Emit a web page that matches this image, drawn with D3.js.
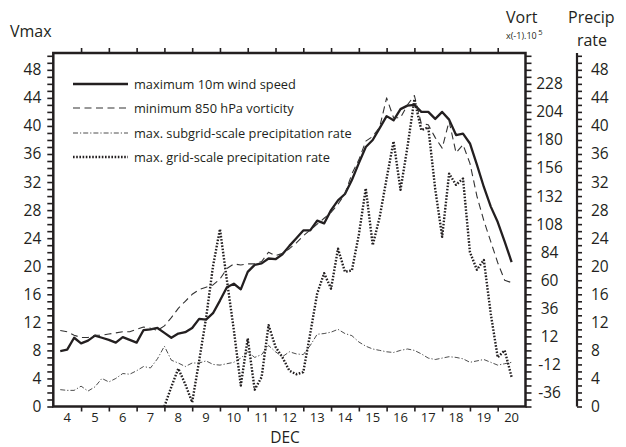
<!DOCTYPE html>
<html><head><meta charset="utf-8">
<script src="https://cdn.jsdelivr.net/npm/d3@7/dist/d3.min.js"></script>
<style>
body{margin:0;background:#fff}
svg{display:block}
text{font-family:"Open Sans",sans-serif;fill:#231f20}
</style>
</head><body>
<svg id="c" width="626" height="447"></svg>
<script>
// ---- data (6-hourly, December) ----
const times = [4.25,4.5,4.75,5,5.25,5.5,5.75,6,6.25,6.5,6.75,7,7.25,7.5,7.75,8,8.25,8.5,8.75,9,9.25,9.5,9.75,10,10.25,10.5,10.75,11,11.25,11.5,11.75,12,12.25,12.5,12.75,13,13.25,13.5,13.75,14,14.25,14.5,14.75,15,15.25,15.5,15.75,16,16.25,16.5,16.75,17,17.25,17.5,17.75,18,18.25,18.5,18.75,19,19.25,19.5,19.75,20,20.25,20.5];
const vmax = [7.9,8.1,9.8,9.0,9.4,10.1,9.8,9.5,9.1,9.9,9.5,9.1,10.9,11.0,11.2,10.5,9.8,10.4,10.6,11.2,12.5,12.4,13.3,15.1,17.0,17.5,16.7,19.2,20.2,20.4,21.1,21.0,21.7,22.9,24.0,25.1,25.1,26.5,26.1,28.0,29.4,30.3,32.3,34.7,37.0,38.0,39.7,41.4,40.8,42.4,42.9,43.0,42.0,42.0,41.0,42.0,40.9,38.7,38.9,37.5,34.5,31.3,28.5,26.3,23.5,20.6];
const vort = [17,16,13,11,11,13,13,14,15,16,16,18,20,19,17,21,28,36,42,48,52,54,56,61,70,74,73,74,74,76,84,81,83,87,92,98,103,108,113,118,125,134,151,163,179,183,191,216,199,199,210,218,194,193,182,173,196,169,176,160,132,111,93,75,60,58];
const precipSub = [2.4,2.3,2.3,2.9,2.2,2.8,4.0,3.5,4.0,4.7,4.6,5.1,5.7,5.5,6.8,8.6,6.6,6.2,5.7,6.2,6.2,6.5,6.0,5.9,6.1,6.3,6.9,7.8,7.0,7.4,8.7,7.8,7.1,7.8,7.5,7.4,8.7,10.3,10.4,10.6,11.0,10.4,10.1,9.2,8.6,8.2,8.0,7.8,7.7,8.0,8.2,8.0,7.5,6.9,6.7,6.9,7.1,7.0,6.8,6.3,6.5,6.7,6.3,5.9,6.1,6.3];
const precipGrid = [null,null,null,null,null,null,null,null,null,null,null,null,null,null,null,0,2.8,5.4,3.2,0.6,6.5,12.6,20.0,25.3,18.0,10.9,3.0,9.7,2.4,4.2,11.6,8.5,7.0,5.1,4.6,4.9,10.4,16.1,19.0,16.8,22.5,19.2,19.4,24.5,31.1,23.0,27.0,32.5,37.8,30.9,37.0,43.8,39.4,39.8,31.0,24.2,33.2,31.6,32.5,22.0,19.5,20.9,13.2,7.0,8.0,4.2];
const dayLabels = [4,5,6,7,8,9,10,11,12,13,14,15,16,17,18,19,20];
const vmaxTicks = [0,4,8,12,16,20,24,28,32,36,40,44,48];
const vortTicks = [-36,-12,12,36,60,84,108,132,156,180,204,228];
const precipTicks = [0,4,8,12,16,20,24,28,32,36,40,44,48];
const legendLabels = ["maximum 10m wind speed","minimum 850 hPa vorticity","max. subgrid-scale precipitation rate","max. grid-scale precipitation rate"];

const svg = d3.select("#c");
const L=53.3, R=525.5, T=53, B=406.5;
const x = d3.scaleLinear().domain([4,21]).range([L,R]);
const y = d3.scaleLinear().domain([0,50.4]).range([B,T]);
const yV = d3.scaleLinear().domain([-48,254.4]).range([B,T]);
const yP = d3.scaleLinear().domain([0,50.4]).range([B,T]);
const ink = "#231f20";

function styleAxis(g, fs){
  g.select(".domain").remove();
  g.selectAll(".tick line").attr("stroke",ink).attr("stroke-width",1.6);
  g.selectAll("text").attr("font-size",fs).attr("fill",ink).attr("font-family",'"Open Sans",sans-serif');
}

// left Vmax axis
const gl = svg.append("g").attr("transform",`translate(${L},0)`)
  .call(d3.axisLeft(y).tickValues(d3.range(0,51,1)).tickSize(6).tickPadding(6)
    .tickFormat(d => vmaxTicks.includes(d) ? d : ""));
styleAxis(gl,15.5);

// right vorticity axis
const gr = svg.append("g").attr("transform",`translate(${R},0)`)
  .call(d3.axisRight(yV).tickValues(d3.range(-48,253,6)).tickSize(6)
    .tickFormat(d => vortTicks.includes(d) ? d : ""));
styleAxis(gr,15.5);
gr.selectAll("text").attr("x",24).attr("text-anchor","middle");

// precip axis
const PX = 577;
const gp = svg.append("g").attr("transform",`translate(${PX},0)`)
  .call(d3.axisRight(yP).tickValues(d3.range(0,51,1)).tickSize(5).tickPadding(9)
    .tickFormat(d => precipTicks.includes(d) ? d : ""));
styleAxis(gp,15.5);
svg.append("line").attr("x1",PX).attr("x2",PX).attr("y1",yP(50.4)).attr("y2",yP(0))
  .attr("stroke",ink).attr("stroke-width",2.2);

// bottom / top axes
const gb = svg.append("g").attr("transform",`translate(0,${B})`)
  .call(d3.axisBottom(x).tickValues(d3.range(5,21)).tickSize(5).tickFormat(""));
styleAxis(gb,12);
const gt = svg.append("g").attr("transform",`translate(0,${T})`)
  .call(d3.axisTop(x).tickValues(d3.range(5,21)).tickSize(5).tickFormat(""));
styleAxis(gt,12);
svg.append("g").selectAll("text").data(dayLabels).join("text")
  .attr("x",d=>x(d+0.5)).attr("y",B+15.5).attr("text-anchor","middle")
  .attr("font-size",13).text(d=>d);

// frame
svg.append("rect").attr("x",L).attr("y",T).attr("width",R-L).attr("height",B-T)
  .attr("fill","none").attr("stroke",ink).attr("stroke-width",2.5);

// titles
svg.append("text").attr("x",10).attr("y",37).attr("font-size",16).text("Vmax");
svg.append("text").attr("x",506).attr("y",23).attr("font-size",16).text("Vort");
const sub = svg.append("text").attr("x",506).attr("y",39).attr("font-size",9);
sub.append("tspan").text("x(-1).10");
sub.append("tspan").attr("dy",-4).attr("dx",1.5).attr("font-size",7.5).text("5");
svg.append("text").attr("x",568).attr("y",23).attr("font-size",16).text("Precip");
svg.append("text").attr("x",592).attr("y",46).attr("font-size",16).attr("text-anchor","middle").text("rate");
svg.append("text").attr("x",285).attr("y",443).attr("font-size",15.5).attr("text-anchor","middle").text("DEC");

// series
const styles = [
  {data:vmax, ys:y, w:2.3, dash:null, col:ink},
  {data:vort, ys:yV, w:1.1, dash:"7,4.5", col:"#333"},
  {data:precipSub, ys:yP, w:0.9, dash:"5,2,1.2,2", col:"#3a3a3a"},
  {data:precipGrid, ys:yP, w:2.4, dash:"1.6,1.6", col:ink}
];
styles.forEach(s=>{
  const line = d3.line().defined(d=>d!=null).x((d,i)=>x(times[i])).y(d=>s.ys(d));
  svg.append("path").attr("d",line(s.data)).attr("fill","none")
    .attr("stroke",s.col).attr("stroke-width",s.w)
    .attr("stroke-dasharray",s.dash).attr("stroke-linejoin","round");
});

// legend
const ly = [84,108,133,157];
const lg = svg.append("g");
styles.forEach((s,i)=>{
  lg.append("line").attr("x1",73).attr("x2",128).attr("y1",ly[i]).attr("y2",ly[i])
    .attr("stroke",s.col).attr("stroke-width",s.w).attr("stroke-dasharray",s.dash);
  lg.append("text").attr("x",134).attr("y",ly[i]+4.5).attr("font-size",12.8).text(legendLabels[i]);
});
</script>
</body></html>
